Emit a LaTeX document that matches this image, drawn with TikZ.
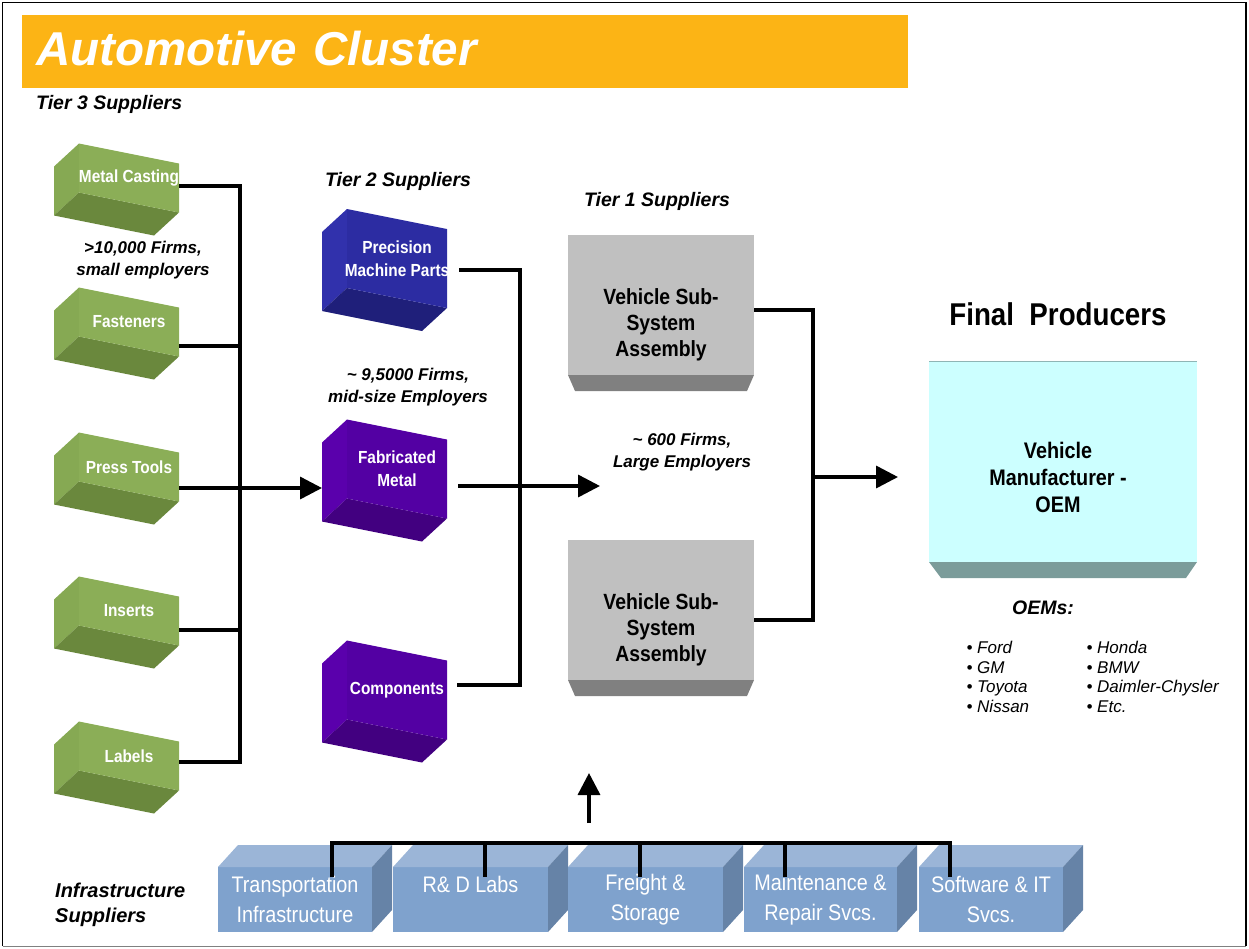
\documentclass[tikz,border=0pt]{standalone}
\usepackage{fontspec}
\setmainfont{Liberation Sans}
\newfontfamily\narrowsf[FakeStretch=0.88]{Liberation Sans}
\usetikzlibrary{arrows.meta, calc, positioning}
\definecolor{clorange}{HTML}{FCB415}
\definecolor{greenfront}{HTML}{8BAE57}
\definecolor{greenside}{HTML}{86A953}
\definecolor{greenbottom}{HTML}{6A883D}
\definecolor{bluefront}{HTML}{2C2CA2}
\definecolor{blueside}{HTML}{3131AC}
\definecolor{bluebottom}{HTML}{1F1F7A}
\definecolor{violetfront}{HTML}{5300A3}
\definecolor{violetside}{HTML}{5A00AC}
\definecolor{violetbottom}{HTML}{420080}
\definecolor{subgrey}{HTML}{C0C0C0}
\definecolor{subdark}{HTML}{808080}
\definecolor{oemfront}{HTML}{CCFFFF}
\definecolor{oembottom}{HTML}{7B9C9A}
\definecolor{oemedge}{HTML}{8FB5B5}
\definecolor{infrafront}{HTML}{7FA2CD}
\definecolor{infratop}{HTML}{9BB5D7}
\definecolor{infraside}{HTML}{6683A7}

% tilted supplier block: name, centre, front height, colour set, text
\newcommand{\tiltbox}[5]{%
  \begin{scope}[shift={(#2)}]
    \fill[#4side] (-50,{-10-#3/2}) -- (-75,{13-#3/2}) -- (-75,{13+#3/2}) -- (-50,{-10+#3/2}) -- cycle;
    \fill[#4bottom] (-50,{-10+#3/2}) -- (50,{10+#3/2}) -- (25,{33+#3/2}) -- (-75,{13+#3/2}) -- cycle;
    \fill[#4front] (-50,{-10-#3/2}) -- (50,{10-#3/2}) -- (50,{10+#3/2}) -- (-50,{-10+#3/2}) -- cycle;
  \end{scope}
  \node[tierbox, minimum height=#3] (#1) at (#2) {#5};
}
% infrastructure block: name, centre, width, text
\newcommand{\infrabox}[4]{%
  \node[infra, minimum width=#3] (#1) at (#2) {#4};
  \fill[infratop] (#1.north west) -- ++(20,-22) -- ++(#3,0) -- (#1.north east) -- cycle;
  \fill[infraside] (#1.north east) -- ++(20,-22) -- ++(0,65) -- (#1.south east) -- cycle;
}
% sub-system block: name, centre, text
\newcommand{\subassembly}[3]{%
  \node[subbox, label={[subtext]center:{#3}}] (#1) at (#2) {};
  \fill[subdark] (#1.south west) -- (#1.south east) -- ++(-7,16) -- ($(#1.south west)+(7,16)$) -- cycle;
}

\begin{document}
\begin{tikzpicture}[x=1pt, y=-1pt,
        wire/.style={line width=3.5pt},
        flow/.style={wire, -{Triangle[length=22pt, width=22pt]}}]
    \tikzstyle{tierbox}=[text=white, font=\narrowsf\bfseries\fontsize{17.5}{23}\selectfont, minimum width=100, inner sep=0, outer sep=0, align=center]
    \tikzstyle{subbox}=[fill=subgrey, minimum width=186, minimum height=140, inner sep=0, outer sep=0]
    \tikzstyle{subtext}=[font=\narrowsf\bfseries\fontsize{22}{26}\selectfont, align=center, yshift=-19.5pt]
    \tikzstyle{infra}=[fill=infrafront, text=white, minimum height=65, inner sep=0, outer sep=0, align=center, font=\narrowsf\fontsize{22.5}{30}\selectfont]
    \tikzstyle{tierlabel}=[font=\bfseries\itshape\fontsize{19.5}{24}\selectfont, inner sep=0]
    \tikzstyle{firmnote}=[font=\bfseries\itshape\fontsize{17}{21.5}\selectfont, align=center, inner sep=0]

    \useasboundingbox (0,0) rectangle (1249,948);
    \draw[line width=1.5] (2.5,946) -- (2.5,2.5) -- (1246,2.5) -- (1246,946);
    \draw[gray, line width=1.5] (2.5,946.5) -- (1246,946.5);

    \node[fill=clorange, text=white, font=\bfseries\itshape\fontsize{47.5}{50}\selectfont,
          text width=858pt, inner xsep=14pt, inner ysep=0, text depth=7pt,
          minimum height=73, align=left] (title) at (465,51.5) {Automotive Cluster};

    \node[tierlabel, anchor=west] (tier3) at (36,104) {Tier 3 Suppliers};
    \node[tierlabel] (tier2) at (398,181) {Tier 2 Suppliers};
    \node[tierlabel] (tier1) at (657,201) {Tier 1 Suppliers};
    \node[firmnote] (firms3) at (143,260) {>10,000 Firms,\\small employers};
    \node[firmnote] (firms2) at (408,387) {\textasciitilde{} 9,5000 Firms,\\mid-size Employers};
    \node[firmnote] (firms1) at (682,452) {\textasciitilde{} 600 Firms,\\Large Employers};
    \node[tierlabel, font=\bfseries\itshape\fontsize{20}{25}\selectfont, anchor=west, align=left] (infralabel) at (55,905) {Infrastructure\\Suppliers};

    \tiltbox{cast}{129,178}{49}{green}{Metal Casting}
    \tiltbox{fast}{129,322}{49}{green}{Fasteners}
    \tiltbox{press}{129,467}{49}{green}{Press Tools}
    \tiltbox{ins}{129,611}{49}{green}{Inserts}
    \tiltbox{lab}{129,756}{49}{green}{Labels}

    \tiltbox{prec}{397,258.5}{79}{blue}{Precision\\Machine Parts}
    \tiltbox{fab}{397,469}{79}{violet}{Fabricated\\Metal}
    \tiltbox{comp}{397,690}{79}{violet}{Components}

    \subassembly{sub1}{661,305}{Vehicle Sub-\\System\\Assembly}
    \subassembly{sub2}{661,610}{Vehicle Sub-\\System\\Assembly}

    \node[font=\narrowsf\bfseries\fontsize{31.5}{34}\selectfont] (final) at (1058,314) {Final\ \ Producers};
    \node[fill=oemfront, minimum width=268, minimum height=201, inner sep=0, outer sep=0,
          label={[font=\narrowsf\bfseries\fontsize{22.5}{27}\selectfont, align=center, yshift=-15.5pt, xshift=-5pt]center:{Vehicle\\Manufacturer -\\OEM}}] (oem) at (1063,461.5) {};
    \draw[oemedge, line width=1] (oem.north west) -- (oem.north east);
    \fill[oembottom] (oem.south west) -- (oem.south east) -- ++(-11,16) -- ($(oem.south west)+(12,16)$) -- cycle;
    \node[font=\bfseries\itshape\fontsize{19.5}{24}\selectfont] (oems) at (1043,608) {OEMs:};
    \node[font=\itshape\fontsize{17}{19.6}\selectfont, align=left, anchor=west] (makers1) at (963,677) {• Ford\\• GM\\• Toyota\\• Nissan};
    \node[font=\itshape\fontsize{17}{19.6}\selectfont, align=left, anchor=west] (makers2) at (1083,677) {• Honda\\• BMW\\• Daimler-Chysler\\• Etc.};

    \infrabox{trans}{295,899.5}{154}{Transportation\\Infrastructure}
    \infrabox{rnd}{470.5,899.5}{155}{R\& D Labs\\~}
    \infrabox{freight}{645.5,899.5}{155}{Freight \&\\Storage}
    \infrabox{maint}{820.5,899.5}{153}{Maintenance \&\\Repair Svcs.}
    \infrabox{soft}{991,899.5}{144}{Software \& IT\\Svcs.}

    \coordinate (tierone) at (600,486);
    \coordinate (busup) at (589,823);
    \coordinate (tierin) at (589,773);

    \draw[wire] ([yshift=-8pt]cast.east) -- ++(61,0) |- ([yshift=-6pt]lab.east);
    \draw[wire] ([yshift=-24pt]fast.east) -- ++(61,0);
    \draw[wire] ([yshift=-19pt]ins.east) -- ++(61,0);
    \draw[flow] ([yshift=-21pt]press.east) -- ($(fab.west)+(-25,19)$);

    \draw[wire] ([shift={(10pt,-11.5pt)}]prec.east) -- ++(61,0) |- ([shift={(10pt,5pt)}]comp.east);
    \draw[flow] ([shift={(11pt,-17pt)}]fab.east) -- (tierone);

    \draw[wire] ([yshift=-5pt]sub1.east) -- ++(59,0) coordinate (t1bus) |- ([yshift=-10pt]sub2.east);
    \draw[flow] ($(t1bus |- oem.west)+(0,15.5)$) -- ($(oem.west)+(-31,15.5)$);

    \draw[wire] ([shift={(37pt,-10pt)}]trans.north) -- ++(0,-34) -| ([shift={(-41pt,-10pt)}]soft.north);
    \draw[wire] ([shift={(14.5pt,-10pt)}]rnd.north) -- ++(0,-34);
    \draw[wire] ([shift={(-5.5pt,-10pt)}]freight.north) -- ++(0,-34);
    \draw[wire] ([shift={(-35.5pt,-10pt)}]maint.north) -- ++(0,-34);
    \draw[flow] (busup) -- (tierin);
\end{tikzpicture}
\end{document}
